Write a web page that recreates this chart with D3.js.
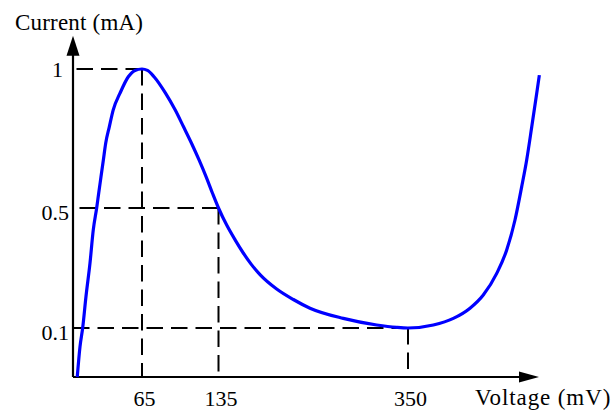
<!DOCTYPE html>
<html>
<head>
<meta charset="utf-8">
<script src="https://cdn.jsdelivr.net/npm/d3@7"></script>
<style>
body{margin:0;background:#fff;}
svg text{font-family:"Liberation Serif","Times New Roman",serif;fill:#000;}
</style>
</head>
<body>
<div id="plot"></div>
<script>
// I-V curve: voltage in mV, current in mA
var voltage = [4, 6.6, 9.1, 12.2, 16.0, 19.1, 22.3, 24.2, 26.4, 28.6, 30.8, 34.2, 37.9, 44.3, 52.1, 58.4, 65, 70,
               76, 86.5, 95.3, 103, 110.3, 117.2, 123.6, 129.5, 135,
               144.3, 154, 163.1, 172, 182.1, 201, 219.9, 238.8, 276.6, 314.5, 337.2, 350,
               379, 401.9, 421, 436.2, 451.6, 463, 472.5, 480.2, 485.9, 491.7, 497.4, 500.4];
var current = [0, 0.062, 0.1, 0.204, 0.316, 0.427, 0.5, 0.553, 0.613, 0.673, 0.733, 0.792, 0.853, 0.913, 0.972, 0.995, 1, 0.995,
               0.972, 0.913, 0.853, 0.792, 0.733, 0.673, 0.613, 0.553, 0.5,
               0.443, 0.393, 0.35, 0.313, 0.278, 0.23, 0.195, 0.166, 0.132, 0.11, 0.102, 0.1,
               0.11, 0.132, 0.166, 0.21, 0.282, 0.36, 0.46, 0.577, 0.673, 0.792, 0.913, 0.978];
var xTicks = [65, 135, 350];
var yTicks = [0.1, 0.5, 1];
// dashed guides run from these points back to both axes
var guideVoltage = [65, 135, 350];
var guideCurrent = [1, 0.5, 0.1];

function start(){
    var width = 616, height = 410;
    var svg = d3.select("#plot").append("svg")
                .attr("width", width)
                .attr("height", height);

    // the drawing is not to scale, so both axes are piecewise linear
    var x = d3.scaleLinear()
              .domain([0, 65, 135, 350, 500])
              .range([73, 142, 218.5, 408, 539]);
    var y = d3.scaleLinear()
              .domain([0, 0.1, 0.5, 1])
              .range([377, 328, 208, 69]);

    var guides = guideVoltage.map(function(v, i){ return {v: v, c: guideCurrent[i]}; });

    // horizontal guides, drawn from the point to the current axis
    svg.selectAll(".hguide")
       .data(guides)
       .enter()
       .append("line")
       .attr("class", "hguide")
       .attr("x1", function(d){ return x(d.v); })
       .attr("x2", x(0))
       .attr("y1", function(d){ return y(d.c); })
       .attr("y2", function(d){ return y(d.c); })
       .attr("stroke", "black")
       .attr("stroke-width", 2)
       .attr("stroke-dasharray", "16.5,8");

    // vertical guides, drawn down to the voltage axis
    svg.selectAll(".vguide")
       .data(guides)
       .enter()
       .append("line")
       .attr("class", "vguide")
       .attr("x1", function(d){ return x(d.v); })
       .attr("x2", function(d){ return x(d.v); })
       .attr("y1", function(d){ return y(d.c); })
       .attr("y2", y(0))
       .attr("stroke", "black")
       .attr("stroke-width", 2)
       .attr("stroke-dasharray", "16.5,8");

    // axes with arrow heads
    var xEnd = x(500), yEnd = y(1.12);
    svg.append("line")
       .attr("x1", x(0)).attr("x2", xEnd - 18)
       .attr("y1", y(0)).attr("y2", y(0))
       .attr("stroke", "black").attr("stroke-width", 2.2);
    svg.append("path")
       .attr("d", "M" + xEnd + "," + y(0) + "L" + (xEnd - 20) + "," + (y(0) - 5.5) + "L" + (xEnd - 20) + "," + (y(0) + 5.5) + "Z")
       .attr("fill", "black");
    svg.append("line")
       .attr("x1", x(0)).attr("x2", x(0))
       .attr("y1", y(0)).attr("y2", yEnd + 18)
       .attr("stroke", "black").attr("stroke-width", 2.2);
    svg.append("path")
       .attr("d", "M" + x(0) + "," + yEnd + "L" + (x(0) - 6.5) + "," + (yEnd + 20) + "L" + (x(0) + 6.5) + "," + (yEnd + 20) + "Z")
       .attr("fill", "black");

    // tick labels only, no tick marks
    svg.append("g")
       .attr("transform", "translate(0," + y(0) + ")")
       .call(d3.axisBottom(x).tickValues(xTicks).tickSize(0).tickPadding(13).tickFormat(d3.format("")))
       .call(function(g){ g.select(".domain").remove(); })
       .attr("font-size", 22)
       .selectAll("text")
       .attr("dx", 2);

    svg.append("g")
       .attr("transform", "translate(" + x(0) + ",0)")
       .call(d3.axisLeft(y).tickValues(yTicks).tickSize(0).tickPadding(4).tickFormat(d3.format("")))
       .call(function(g){ g.select(".domain").remove(); })
       .attr("font-size", 22)
       .selectAll("text")
       .attr("dy", function(d){ return d === 1 ? "0.32em" : "0.5em"; })
       .attr("dx", function(d){ return d === 1 ? -6 : 0; });

    // the curve
    var line = d3.line()
                 .x(function(d){ return x(d[0]); })
                 .y(function(d){ return y(d[1]); })
                 .curve(d3.curveMonotoneX);
    svg.append("path")
       .datum(d3.zip(voltage, current))
       .attr("d", line)
       .attr("fill", "none")
       .attr("stroke", "#0000ff")
       .attr("stroke-width", 3.2)
       .attr("stroke-linejoin", "round");

    // axis titles
    svg.append("text")
       .attr("x", 15)
       .attr("y", 30)
       .style("font-size", "23px")
       .style("letter-spacing", "0.2px")
       .text("Current (mA)");

    svg.append("text")
       .attr("x", 475)
       .attr("y", 405)
       .style("font-size", "23px")
       .style("letter-spacing", "0.9px")
       .text("Voltage (mV)");
}

start()
</script>
</body>
</html>
